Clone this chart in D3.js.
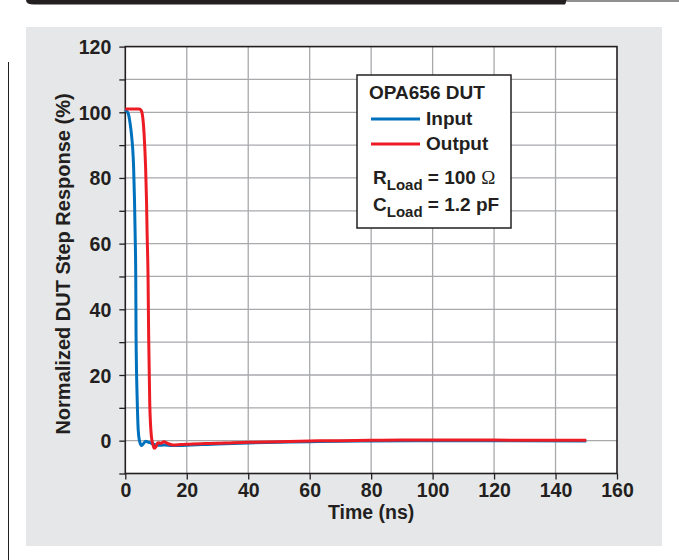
<!DOCTYPE html>
<html>
<head>
<meta charset="utf-8">
<script src="https://cdn.jsdelivr.net/npm/d3@7"></script>
<style>
  html, body { margin: 0; padding: 0; background: #fff; }
  svg text { font-family: "Liberation Sans", Arial, sans-serif; font-weight: bold; fill: #231f20; }
</style>
</head>
<body>
<div id="chart"></div>
<script>
// time axis (ns) and normalized response (%)
var inputTime  = [0, 0.5, 1.0, 1.5, 1.95, 2.7, 3.0, 3.2, 3.4, 3.5, 3.9, 4.2, 4.6, 5.3, 6.0, 6.6, 7.3, 8.0, 9.0, 10.0, 11.5, 13, 15, 20, 25, 30, 40, 50, 60, 70, 80, 100, 120, 150];
var inputValue = [100.8, 100.3, 99.5, 97, 93.7, 83.4, 73, 63, 50, 32, 11.5, 3.3, 0, -1.5, -0.8, -0.2, -0.4, -0.6, -1.0, -1.3, -1.4, -1.3, -1.5, -1.4, -1.2, -1.0, -0.7, -0.5, -0.3, -0.2, -0.1, 0, 0, -0.1];

var outputTime  = [0, 2, 4.5, 5.2, 5.6, 6.1, 6.6, 6.9, 7.1, 7.4, 7.6, 7.95, 8.5, 9.0, 9.4, 10.0, 10.6, 11.7, 12.6, 13.5, 14.5, 15.5, 18, 22, 26, 30, 35, 40, 50, 60, 70, 80, 90, 100, 110, 120, 130, 140, 150];
var outputValue = [101, 101, 101, 100.5, 99, 93.6, 83.4, 73.3, 63, 50, 32, 11.5, 1.2, -1.2, -2.3, -1.8, -0.6, -0.8, -0.3, -0.7, -1.1, -1.3, -1.2, -1.0, -0.9, -0.8, -0.6, -0.5, -0.3, -0.1, 0, 0.1, 0.2, 0.2, 0.2, 0.2, 0.1, 0.1, 0.1];

var xTicks = [0, 20, 40, 60, 80, 100, 120, 140, 160];
var yTicks = [0, 20, 40, 60, 80, 100, 120];
var yMinor = [-10, 0, 10, 20, 30, 40, 50, 60, 70, 80, 90, 100, 110, 120];

var blue = "#0071bc", red = "#ed1c24", ink = "#231f20", grid = "#a7a9ac";

var svg = d3.select("#chart").append("svg")
    .attr("width", 679)
    .attr("height", 560);

// page decoration
svg.append("path")
    .attr("d", "M26,0 L567,0 L565,4.5 L34,4.5 Q26,4.5 26,0 Z")
    .attr("fill", ink);
svg.append("line")
    .attr("x1", 567).attr("x2", 679).attr("y1", 1).attr("y2", 1)
    .attr("stroke", ink).attr("stroke-width", 1);
svg.append("line")
    .attr("x1", 8.5).attr("x2", 8.5).attr("y1", 62).attr("y2", 560)
    .attr("stroke", ink).attr("stroke-width", 1);

// grey panel
svg.append("rect")
    .attr("x", 26).attr("y", 27)
    .attr("width", 636).attr("height", 519)
    .attr("fill", "#e6e7e8");

var x = d3.scaleLinear().domain([0, 160]).range([125.3, 617]);
var y = d3.scaleLinear().domain([-10, 120]).range([473.5, 46.6]);

// plot background
svg.append("rect")
    .attr("x", x(0)).attr("y", y(120))
    .attr("width", x(160) - x(0)).attr("height", y(-10) - y(120))
    .attr("fill", "#fff");

// grid
svg.append("g").selectAll("line")
    .data(yMinor.filter(function(d) { return d > -10 && d < 120; }))
    .enter().append("line")
    .attr("x1", x(0)).attr("x2", x(160))
    .attr("y1", function(d) { return y(d); })
    .attr("y2", function(d) { return y(d); })
    .attr("stroke", grid).attr("stroke-width", 1.3);

svg.append("g").selectAll("line")
    .data(xTicks.filter(function(d) { return d > 0 && d < 160; }))
    .enter().append("line")
    .attr("y1", y(-10)).attr("y2", y(120))
    .attr("x1", function(d) { return x(d); })
    .attr("x2", function(d) { return x(d); })
    .attr("stroke", grid).attr("stroke-width", 1.3);

// axes
var yAxis = d3.axisLeft(y).tickValues(yMinor).tickSize(6)
    .tickFormat(function(d) { return yTicks.indexOf(d) >= 0 ? d : ""; });
var gy = svg.append("g").attr("transform", "translate(" + x(0) + ",0)").call(yAxis);

var xAxis = d3.axisBottom(x).tickValues(xTicks).tickSize(6).tickFormat(d3.format("d"));
var gx = svg.append("g").attr("transform", "translate(0," + y(-10) + ")").call(xAxis);

[gx, gy].forEach(function(g) {
    g.select(".domain").remove();
    g.selectAll(".tick line").attr("stroke", ink).attr("stroke-width", 1.3);
    g.selectAll(".tick text")
        .attr("font-size", 19.5)
        .attr("font-family", "Liberation Sans, Arial, sans-serif")
        .attr("font-weight", "bold")
        .attr("fill", ink);
});
gy.selectAll(".tick text").attr("x", -14).attr("dy", "0.36em");
gx.selectAll(".tick text").attr("y", 23).attr("dy", 0);

// frame
svg.append("rect")
    .attr("x", x(0)).attr("y", y(120))
    .attr("width", x(160) - x(0)).attr("height", y(-10) - y(120))
    .attr("fill", "none").attr("stroke", ink).attr("stroke-width", 1.6);

// curves
var line = d3.line()
    .x(function(d) { return x(d[0]); })
    .y(function(d) { return y(d[1]); })
    .curve(d3.curveMonotoneX);

svg.append("path")
    .datum(d3.zip(inputTime, inputValue))
    .attr("d", line)
    .attr("fill", "none").attr("stroke", blue).attr("stroke-width", 3)
    .attr("stroke-linejoin", "round");

svg.append("path")
    .datum(d3.zip(outputTime, outputValue))
    .attr("d", line)
    .attr("fill", "none").attr("stroke", red).attr("stroke-width", 3)
    .attr("stroke-linejoin", "round");

// axis titles
svg.append("text")
    .attr("x", x(80)).attr("y", 519)
    .attr("text-anchor", "middle")
    .attr("font-size", 19.5)
    .text("Time (ns)");

svg.append("text")
    .attr("transform", "translate(70,264) rotate(-90)")
    .attr("text-anchor", "middle")
    .attr("font-size", 20)
    .text("Normalized DUT Step Response (%)");

// legend
var leg = svg.append("g");
leg.append("rect")
    .attr("x", 357).attr("y", 75)
    .attr("width", 154).attr("height", 153)
    .attr("fill", "#fff").attr("stroke", ink).attr("stroke-width", 1.5);

leg.append("text").attr("x", 369).attr("y", 99).attr("font-size", 19).text("OPA656 DUT");

leg.append("line").attr("x1", 371).attr("x2", 420).attr("y1", 119).attr("y2", 119)
    .attr("stroke", blue).attr("stroke-width", 3);
leg.append("text").attr("x", 426).attr("y", 125).attr("font-size", 19).text("Input");

leg.append("line").attr("x1", 371).attr("x2", 420).attr("y1", 144).attr("y2", 144)
    .attr("stroke", red).attr("stroke-width", 3);
leg.append("text").attr("x", 426).attr("y", 150).attr("font-size", 19).text("Output");

var r = leg.append("text").attr("x", 373).attr("y", 184).attr("font-size", 19);
r.append("tspan").text("R");
r.append("tspan").attr("font-size", 15).attr("dy", 6).text("Load");
r.append("tspan").attr("dy", -6).text(" = 100 ");
r.append("tspan").attr("font-family", "Liberation Serif, DejaVu Serif, serif")
    .attr("font-weight", "normal").text("\u03A9");

var c = leg.append("text").attr("x", 373).attr("y", 211).attr("font-size", 19);
c.append("tspan").text("C");
c.append("tspan").attr("font-size", 15).attr("dy", 6).text("Load");
c.append("tspan").attr("dy", -6).text(" = 1.2 pF");
</script>
</body>
</html>
